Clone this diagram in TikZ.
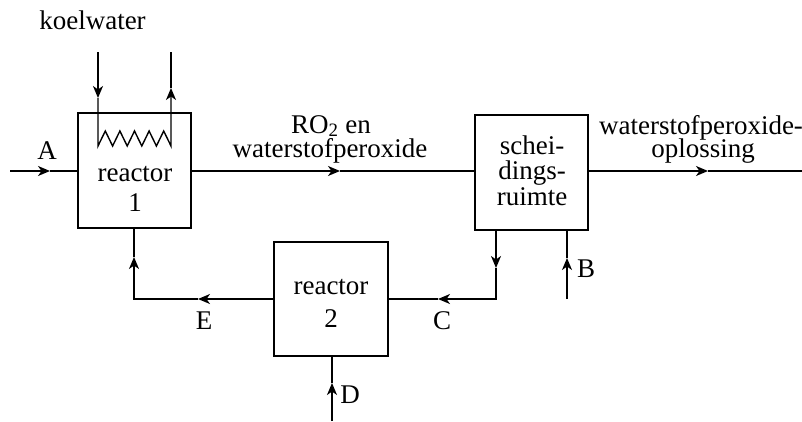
\documentclass[tikz,border=0pt]{standalone}
\usepackage{fontspec}
\setmainfont{Liberation Serif}
\usetikzlibrary{arrows.meta}
\begin{document}
\begin{tikzpicture}[x=1pt,y=-1pt,
  line width=1.4pt,
  box/.style={draw, line width=1.3pt, minimum width=113pt, minimum height=115pt, inner sep=0pt},
  txt/.style={anchor=base, inner sep=0pt, font=\fontsize{27}{24}\selectfont},
  arr/.style={-{Stealth[length=12pt,width=10pt,inset=3.5pt]}}]
\useasboundingbox (0,0) rectangle (802,421);

% boxes
\node[box] (r1) at (134.5,170.5) {};
\node[box] (sep) at (531.5,172.5) {};
\node[box, minimum width=114pt, minimum height=114pt] (r2) at (331,299) {};

% feed A
\coordinate (Ain) at (10,171);
\coordinate (Atip) at (50,171);
\draw[arr] (Ain) -- (Atip);
\draw (Atip) -- (r1.west |- Atip);

% main stream
\coordinate (Mtip) at (340,171);
\draw[arr] (r1.east |- Mtip) -- (Mtip);
\draw (Mtip) -- (sep.west |- Mtip);

% output
\coordinate (Otip) at (708,171);
\coordinate (Oend) at (802,171);
\draw[arr] (sep.east |- Otip) -- (Otip);
\draw (Otip) -- (Oend);

% cooling water
\coordinate (kin) at (98,52);
\coordinate (kintip) at (98,98);
\coordinate (kout) at (171,52);
\coordinate (kouttip) at (171,88);
\draw[arr] (kin) -- (kintip);
\draw[arr] (kintip) -- (98,146) -- (105.3,131) -- (112.6,146) -- (119.9,131) -- (127.2,146)
  -- (134.5,131) -- (141.8,146) -- (149.1,131) -- (156.4,146) -- (163.7,131) -- (171,146) -- (kouttip);
\draw (kouttip) -- (kout);

% C stream
\coordinate (Cd) at (496,268);
\coordinate (Ccorner) at (496,299);
\coordinate (Ctip) at (438,299);
\draw[arr] (sep.south -| Cd) -- (Cd);
\draw[arr] (Cd) -- (Ccorner) -- (Ctip);
\draw (Ctip) -- (r2.east |- Ctip);

% B feed
\coordinate (Bin) at (567,299);
\coordinate (Btip) at (567,258);
\draw[arr] (Bin) -- (Btip);
\draw (Btip) -- (sep.south -| Btip);

% E stream
\coordinate (Etip) at (198,299);
\coordinate (Ecorner) at (134,299);
\coordinate (Eup) at (134,257);
\draw[arr] (r2.west |- Etip) -- (Etip);
\draw[arr] (Etip) -- (Ecorner) -- (Eup);
\draw (Eup) -- (r1.south -| Eup);

% D feed
\coordinate (Din) at (332,421);
\coordinate (Dtip) at (332,383);
\draw[arr] (Din) -- (Dtip);
\draw (Dtip) -- (r2.south -| Dtip);

% texts
\node[txt] (kw) at (92.5,29) {koelwater};
\node[txt] (lA) at (47,159) {A};
\node[txt] (lRO) at (331,133) {RO\textsubscript{2} en};
\node[txt] (lW) at (330,157) {waterstofperoxide};
\node[txt] (lW2) at (701,134) {waterstofperoxide-};
\node[txt] (lopl) at (703,157) {oplossing};
\node[txt] (s1) at (532,154) {schei-};
\node[txt] (s2) at (532,179) {dings-};
\node[txt] (s3) at (532,205.5) {ruimte};
\node[txt] (r1a) at (135,181) {reactor};
\node[txt] (r1b) at (135,211) {1};
\node[txt] (r2a) at (331,294) {reactor};
\node[txt] (r2b) at (331,327) {2};
\node[txt] (lB) at (586,277) {B};
\node[txt] (lE) at (204,329) {E};
\node[txt] (lC) at (442,329) {C};
\node[txt] (lD) at (350,403) {D};
\end{tikzpicture}
\end{document}
